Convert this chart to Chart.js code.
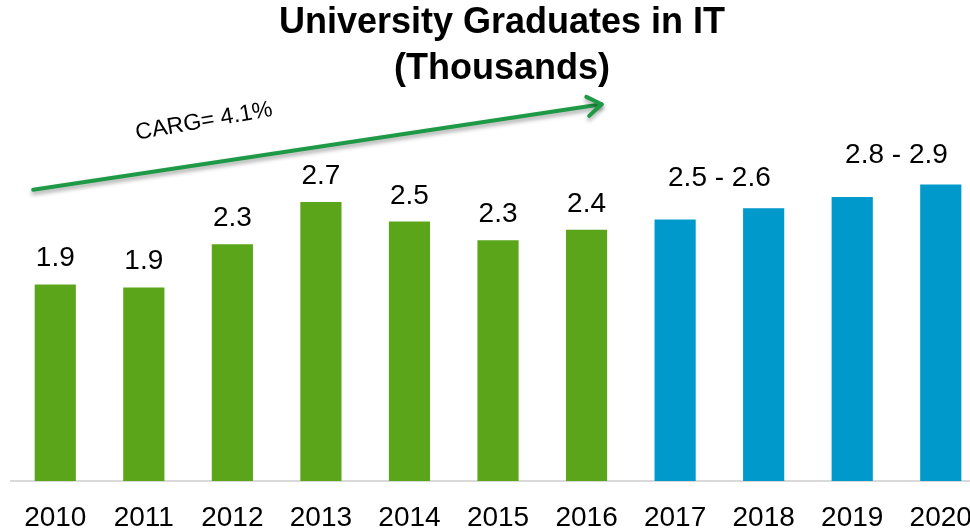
<!DOCTYPE html>
<html>
<head>
<meta charset="utf-8">
<script src="https://cdn.jsdelivr.net/npm/chart.js@4.4.0/dist/chart.umd.min.js"></script>
<style>
  html, body { margin: 0; padding: 0; background: #fff; overflow: hidden; }
  #wrap { width: 970px; height: 529px; overflow: hidden; }
  #wrap div { width: 995px; height: 529px; }
</style>
</head>
<body>
<div id="wrap"><div><canvas id="barChart"></canvas></div></div>
<script>
var years = ['2010', '2011', '2012', '2013', '2014', '2015', '2016', '2017', '2018', '2019', '2020'];
var graduates = [1.91, 1.88, 2.30, 2.71, 2.52, 2.34, 2.44, 2.54, 2.65, 2.76, 2.88];
var barColors = ['#5AA51A', '#5AA51A', '#5AA51A', '#5AA51A', '#5AA51A', '#5AA51A', '#5AA51A',
                 '#0099CC', '#0099CC', '#0099CC', '#0099CC'];
var valueLabels = ['1.9', '1.9', '2.3', '2.7', '2.5', '2.3', '2.4', null, null, null, null];
var rangeLabels = [
    { text: '2.5 - 2.6', from: 7, to: 8 },
    { text: '2.8 - 2.9', from: 9, to: 10 }
];
// trend arrow, in scale units (category index, value)
var trendFrom = [-0.25, 2.83];
var trendTo = [6.17, 3.66];
var trendText = 'CARG= 4.1%';

var fontFamily = '"Liberation Sans", Arial, sans-serif';

var labelsPlugin = {
    id: 'labels',
    afterDatasetsDraw: function(chart) {
        var ctx = chart.ctx;
        var meta = chart.getDatasetMeta(0);
        ctx.save();
        ctx.fillStyle = '#000';
        ctx.font = '28px ' + fontFamily;
        ctx.textAlign = 'center';
        ctx.textBaseline = 'alphabetic';
        valueLabels.forEach(function(t, i) {
            if (!t) return;
            var bar = meta.data[i];
            ctx.fillText(t, bar.x, bar.y - 18);
        });
        rangeLabels.forEach(function(r) {
            var a = meta.data[r.from], b = meta.data[r.to];
            ctx.fillText(r.text, (a.x + b.x) / 2, Math.min(a.y, b.y) - 22);
        });

        // trend arrow
        var xs = chart.scales.x, ys = chart.scales.y;
        var x1 = xs.getPixelForValue(trendFrom[0]), y1 = ys.getPixelForValue(trendFrom[1]);
        var x2 = xs.getPixelForValue(trendTo[0]), y2 = ys.getPixelForValue(trendTo[1]);
        var ang = Math.atan2(y2 - y1, x2 - x1);
        ctx.shadowColor = 'rgba(0,0,0,0.35)';
        ctx.shadowBlur = 4;
        ctx.shadowOffsetY = 3;
        ctx.strokeStyle = '#1E9A46';
        ctx.lineWidth = 4;
        ctx.lineCap = 'round';
        ctx.lineJoin = 'round';
        ctx.beginPath();
        ctx.moveTo(x1, y1);
        ctx.lineTo(x2, y2);
        ctx.stroke();
        ctx.beginPath();
        ctx.moveTo(x2 - 17 * Math.cos(ang - 0.6), y2 - 17 * Math.sin(ang - 0.6));
        ctx.lineTo(x2, y2);
        ctx.lineTo(x2 - 17 * Math.cos(ang + 0.6), y2 - 17 * Math.sin(ang + 0.6));
        ctx.stroke();

        ctx.shadowColor = 'transparent';
        ctx.translate(x1 + 172, y1 - 62);
        ctx.rotate(-10 * Math.PI / 180);
        ctx.font = '23px ' + fontFamily;
        ctx.fillStyle = '#000';
        ctx.fillText(trendText, 0, 0);
        ctx.restore();
    }
};

var config = {
    type: 'bar',
    data: {
        labels: years,
        datasets: [{
            data: graduates,
            backgroundColor: barColors,
            barPercentage: 0.465,
            categoryPercentage: 1
        }]
    },
    options: {
        responsive: true,
        maintainAspectRatio: false,
        animation: false,
        layout: { padding: { left: 11, right: 2, top: 0, bottom: 0 } },
        plugins: {
            legend: { display: false },
            tooltip: { enabled: false },
            title: {
                display: true,
                text: ['University Graduates in IT', '(Thousands)'],
                color: '#000',
                font: { family: fontFamily, size: 36, weight: 'bold', lineHeight: 1.28 },
                padding: { top: 0, bottom: 8 }
            }
        },
        scales: {
            x: {
                grid: { display: false, drawTicks: false },
                border: { display: true, color: '#D9D9D9', width: 2 },
                ticks: {
                    color: '#000',
                    padding: 23,
                    font: { family: fontFamily, size: 28, lineHeight: 1 }
                },
                afterFit: function(scale) { scale.height = 48; }
            },
            y: {
                display: false,
                min: 0,
                max: 3.7
            }
        }
    },
    plugins: [labelsPlugin]
};

window.onload = function() {
    var barChart = document.getElementById('barChart').getContext('2d');
    window.myBar = new Chart(barChart, config);
};
</script>
</body>
</html>
